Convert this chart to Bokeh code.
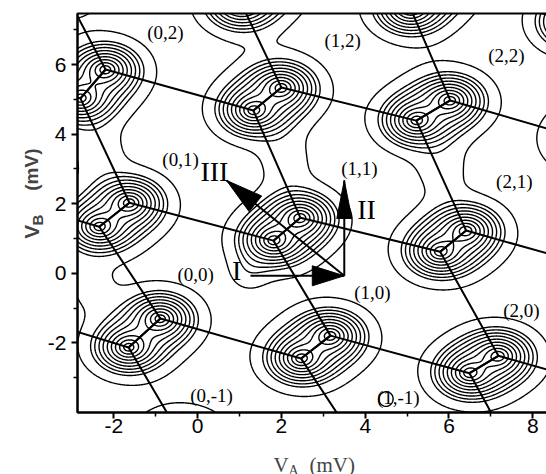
import numpy as np
from bokeh.plotting import figure
from bokeh.layouts import row, column
from bokeh.models import Label, FixedTicker
from bokeh.embed import file_html
from bokeh.resources import INLINE

# ---------------- data ----------------
x_lim = (-2.87, 8.40)
y_lim = (-4.0, 7.47)
x_major_ticks = [-2, 0, 2, 4, 6, 8]
x_minor_ticks = [-1, 1, 3, 5, 7]
y_major_ticks = [-2, 0, 2, 4, 6]
y_minor_ticks = [-3, -1, 1, 3, 5, 7]

# triple-point pairs: upper (u) and lower (l) point, rows from top, columns left to right
row0_u_x = [-6.86, -2.85, 1.62, 5.67, 9.68]
row0_u_y = [9.72, 9.29, 8.48, 8.37, 7.99]
row0_l_x = [-7.57, -3.32, 1.04, 5.08, 8.97]
row0_l_y = [9.00, 8.42, 7.76, 7.62, 7.21]
row1_u_x = [-6.21, -2.20, 2.00, 6.03, 10.04]
row1_u_y = [6.26, 5.86, 5.34, 4.97, 4.45]
row1_l_x = [-6.90, -2.80, 1.33, 5.22, 9.32]
row1_l_y = [5.50, 5.03, 4.68, 4.39, 3.82]
row2_u_x = [-5.71, -1.63, 2.45, 6.41, 10.45]
row2_u_y = [2.52, 2.03, 1.60, 1.23, 0.80]
row2_l_x = [-6.43, -2.35, 1.81, 5.79, 9.80]
row2_l_y = [1.80, 1.34, 0.94, 0.62, 0.08]
row3_u_x = [-4.92, -0.89, 3.17, 7.18, 11.00]
row3_u_y = [-0.93, -1.30, -1.79, -2.37, -2.80]
row3_l_x = [-5.64, -1.65, 2.47, 6.49, 10.28]
row3_l_y = [-1.65, -2.13, -2.45, -2.87, -3.43]
row4_u_x = [-4.40, -0.34, 4.00, 7.77, 11.80]
row4_u_y = [-4.38, -4.81, -5.25, -5.68, -6.10]
row4_l_x = [-5.11, -1.06, 3.36, 7.05, 11.07]
row4_l_y = [-5.10, -5.62, -5.97, -6.40, -6.83]

# weak extra bumps of the measured signal (necks between pairs, small loop)
bump_x = [5.82, 2.10, -2.37, 4.50, -2.55, 1.20]
bump_y = [2.96, 3.24, 3.50, -3.60, -0.40, 0.00]
bump_amp = [0.06, 0.06, 0.06, 0.056, 0.05, 0.05]
bump_width = [20, 20, 20, 7, 18, 14]

contour_levels = [0.05, 0.105, 0.135, 0.174, 0.223, 0.287, 0.368, 0.472, 0.607, 0.779]

cell_text = ["(0,2)", "(1,2)", "(2,2)", "(0,1)", "(1,1)", "(2,1)",
             "(0,0)", "(1,0)", "(2,0)", "(0,-1)", "(1,-1)"]
cell_x = [-0.77, 3.46, 7.37, -0.41, 3.86, 7.56, -0.05, 4.17, 7.73, 0.33, 4.79]
cell_y = [6.93, 6.70, 6.27, 3.27, 3.01, 2.64, -0.04, -0.56, -1.07, -3.52, -3.57]

arrow_name = ["I", "II", "III"]
arrow_tail_x = [1.26, 3.50, 3.50]
arrow_tail_y = [-0.07, -0.07, -0.07]
arrow_tip_x = [3.50, 3.50, 0.69]
arrow_tip_y = [-0.07, 2.67, 2.67]
arrow_name_x = [0.93, 4.03, 0.40]
arrow_name_y = [0.07, 1.83, 2.92]

# ---------------- main figure ----------------
FW, FH = 472, 399
p = figure(x_range=x_lim, y_range=y_lim, frame_width=FW, frame_height=FH,
           output_backend="svg", toolbar_location=None,
           min_border_left=30, min_border_top=13, min_border_right=0,
           min_border_bottom=36)
p.background_fill_color = "white"
p.border_fill_color = "white"
p.xgrid.visible = False
p.ygrid.visible = False
p.outline_line_color = "black"
p.outline_line_width = 2

kx = FW / (x_lim[1] - x_lim[0])
ky = FH / (y_lim[1] - y_lim[0])

rows_u_x = [row0_u_x, row1_u_x, row2_u_x, row3_u_x, row4_u_x]
rows_u_y = [row0_u_y, row1_u_y, row2_u_y, row3_u_y, row4_u_y]
rows_l_x = [row0_l_x, row1_l_x, row2_l_x, row3_l_x, row4_l_x]
rows_l_y = [row0_l_y, row1_l_y, row2_l_y, row3_l_y, row4_l_y]

# contour field from the triple points
gx = np.linspace(-3.3, 8.9, 640)
gy = np.linspace(-4.5, 8.0, 620)
X, Y = np.meshgrid(gx, gy)
Z = np.zeros_like(X)
for r in range(5):
    for px_, py_ in list(zip(rows_u_x[r], rows_u_y[r])) + list(zip(rows_l_x[r], rows_l_y[r])):
        d = np.sqrt(((X - px_) * kx / 1.35) ** 2 + ((Y - py_) * ky) ** 2)
        Z += np.exp(-d / 12.0)
for bx, by, ba, bw in zip(bump_x, bump_y, bump_amp, bump_width):
    Z += ba * np.exp(-(((X - bx) * kx) ** 2 + ((Y - by) * ky) ** 2) / (2 * bw ** 2))

p.contour(x=gx, y=gy, z=Z, levels=contour_levels, line_color="black", line_width=1.4)

# honeycomb lines
ncol = 5
for c in range(ncol):
    xs, ys = [], []
    for r in range(5):
        xs += [rows_u_x[r][c], rows_l_x[r][c]]
        ys += [rows_u_y[r][c], rows_l_y[r][c]]
    p.line(xs, ys, line_color="black", line_width=2)
for r in range(5):
    xs, ys = [], []
    for c in range(ncol):
        xs += [rows_l_x[r][c], rows_u_x[r][c]]
        ys += [rows_l_y[r][c], rows_u_y[r][c]]
    p.line(xs, ys, line_color="black", line_width=2)

# arrows
head_len = [32, 38, 37]
head_wid = [20, 15, 20]
for i in range(3):
    p.line([arrow_tail_x[i], arrow_tip_x[i]], [arrow_tail_y[i], arrow_tip_y[i]],
           line_color="black", line_width=2)
    sx0, sy0 = arrow_tail_x[i] * kx, arrow_tail_y[i] * ky
    sx1, sy1 = arrow_tip_x[i] * kx, arrow_tip_y[i] * ky
    L = np.hypot(sx1 - sx0, sy1 - sy0)
    ux, uy = (sx1 - sx0) / L, (sy1 - sy0) / L
    bxc, byc = sx1 - ux * head_len[i], sy1 - uy * head_len[i]
    nx, ny = -uy, ux
    hw = head_wid[i] / 2
    tx = [sx1 / kx, (bxc + nx * hw) / kx, (bxc - nx * hw) / kx]
    ty = [sy1 / ky, (byc + ny * hw) / ky, (byc - ny * hw) / ky]
    p.patch(tx, ty, fill_color="black", line_color="black", line_width=1)

for t, x, y in zip(arrow_name, arrow_name_x, arrow_name_y):
    p.add_layout(Label(x=x, y=y, text=t, text_font="Liberation Serif", text_font_size="28px",
                       text_align="center", text_baseline="middle", text_color="black"))

for t, x, y in zip(cell_text, cell_x, cell_y):
    p.add_layout(Label(x=x, y=y, text=t, text_font="Liberation Serif", text_font_size="19px",
                       text_align="center", text_baseline="middle", text_color="black"))

# axes
for ax, maj, mnr in ((p.xaxis, x_major_ticks, x_minor_ticks), (p.yaxis, y_major_ticks, y_minor_ticks)):
    ax.ticker = FixedTicker(ticks=maj, minor_ticks=mnr)
    ax.major_label_overrides = {t: str(t) for t in maj}
    ax.major_tick_in = 0
    ax.major_tick_out = 6
    ax.minor_tick_in = 0
    ax.minor_tick_out = 4
    ax.axis_line_width = 2
    ax.major_tick_line_width = 2
    ax.minor_tick_line_width = 1.5
    ax.major_label_text_font = "Liberation Sans"
    ax.major_label_text_font_size = "21px"
    ax.major_label_text_color = "black"
    ax.axis_label_standoff = 0
p.xaxis.major_label_standoff = 0
p.yaxis.major_label_standoff = 5

# ---------------- axis titles (separate strips without axes or title, V with subscript) ----------------
def strip(w, h):
    f = figure(width=w, height=h, x_range=(0, w), y_range=(0, h), output_backend="svg",
               toolbar_location=None, min_border=0, title=None,
               x_axis_location=None, y_axis_location=None)
    f.xgrid.visible = False
    f.ygrid.visible = False
    f.outline_line_color = None
    f.background_fill_color = "white"
    f.border_fill_color = "white"
    return f

ylab = strip(44, 448)
ylab.add_layout(Label(x=31, y=195, text="V", angle=np.pi / 2, text_font="Liberation Sans",
                      text_font_style="bold", text_font_size="21px",
                      text_align="left", text_baseline="alphabetic"))
ylab.add_layout(Label(x=37, y=210, text="B", angle=np.pi / 2, text_font="Liberation Sans",
                      text_font_style="bold", text_font_size="15px",
                      text_align="left", text_baseline="alphabetic"))
ylab.add_layout(Label(x=31, y=249, text="(mV)", angle=np.pi / 2, text_font="Liberation Sans",
                      text_font_style="bold", text_font_size="19px",
                      text_align="left", text_baseline="alphabetic"))

xlab = strip(546, 26)
xlab.add_layout(Label(x=273, y=10, text="V", text_font="Liberation Serif", text_font_size="21px",
                      text_align="left", text_baseline="alphabetic"))
xlab.add_layout(Label(x=288, y=4, text="A", text_font="Liberation Serif", text_font_size="14px",
                      text_align="left", text_baseline="alphabetic"))
xlab.add_layout(Label(x=309, y=10, text="(mV)", text_font="Liberation Serif", text_font_size="21px",
                      text_align="left", text_baseline="alphabetic"))

layout = column(row(ylab, p, spacing=0), xlab, spacing=0)
open("out.html", "w").write(file_html(layout, INLINE))
